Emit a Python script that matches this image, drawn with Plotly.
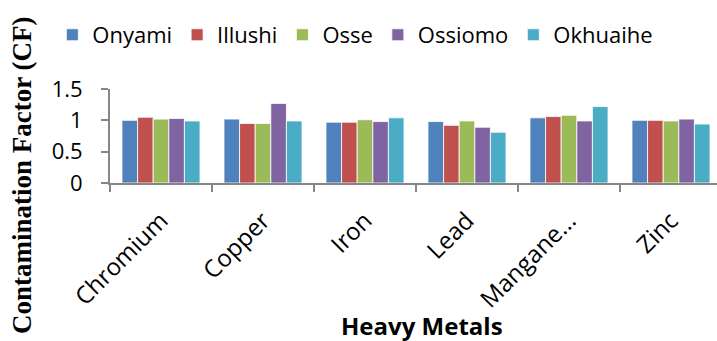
import plotly.graph_objects as go

# Heavy metals sampled at each site
metals = ["Chromium", "Copper", "Iron", "Lead", "Mangane...", "Zinc"]

# Contamination factor per site, in the order of the metals above
onyami = [1.00, 1.02, 0.97, 0.98, 1.04, 1.00]
illushi = [1.05, 0.95, 0.97, 0.92, 1.06, 1.00]
osse = [1.02, 0.95, 1.01, 0.99, 1.08, 0.99]
ossiomo = [1.03, 1.27, 0.98, 0.89, 0.99, 1.02]
okhuaihe = [0.99, 0.99, 1.04, 0.81, 1.22, 0.94]

sites = [
    ("Onyami", onyami, "#4F81BD"),
    ("Illushi", illushi, "#C0504D"),
    ("Osse", osse, "#9BBB59"),
    ("Ossiomo", ossiomo, "#8064A2"),
    ("Okhuaihe", okhuaihe, "#4BACC6"),
]

fig = go.Figure()
for name, vals, color in sites:
    fig.add_trace(go.Bar(
        x=metals, y=vals, name=name,
        marker=dict(color=color, line=dict(color="rgba(255,255,255,0.8)", width=1)),
    ))

axis_grey = "#868686"
body_font = "Open Sans"

fig.update_layout(
    width=717, height=341,
    margin=dict(l=110, r=0, t=89, b=158),
    paper_bgcolor="white", plot_bgcolor="white",
    barmode="group", bargap=0.235, bargroupgap=0,
    font=dict(family=body_font, color="black"),
    showlegend=True,
    legend=dict(
        orientation="h", x=-0.095, xanchor="left", y=1.575, yanchor="middle",
        font=dict(family=body_font, size=22, color="black"),
        itemwidth=30, tracegroupgap=0,
    ),
    xaxis=dict(
        type="category", range=[-0.5, 5.451],
        showline=True, linecolor=axis_grey, linewidth=2,
        ticks="outside", tickson="boundaries", ticklen=7, tickcolor=axis_grey, tickwidth=2,
        tickangle=-45, ticklabelstandoff=12,
        tickfont=dict(family=body_font, size=24, color="black"),
        showgrid=False, zeroline=False,
    ),
    yaxis=dict(
        range=[0, 1.5], tickvals=[0, 0.5, 1, 1.5], ticktext=["0", "0.5", "1", "1.5"],
        showline=True, linecolor=axis_grey, linewidth=2,
        ticks="outside", ticklen=7, tickcolor=axis_grey, tickwidth=2,
        ticklabelstandoff=14,
        tickfont=dict(family=body_font, size=22, color="black"),
        showgrid=False, zeroline=False,
    ),
    annotations=[
        dict(text="<b>Heavy Metals</b>", xref="paper", yref="paper",
             x=0.514, y=-1.71, xanchor="center", yanchor="bottom", showarrow=False,
             font=dict(family=body_font, size=24, color="black")),
        dict(text="<b>Contamination Factor (CF)</b>", xref="paper", yref="paper",
             x=-0.145, y=0.085, xanchor="center", yanchor="middle", textangle=-90,
             showarrow=False,
             font=dict(family="Liberation Serif", size=27, color="black")),
    ],
)

fig.write_html("out.html")
